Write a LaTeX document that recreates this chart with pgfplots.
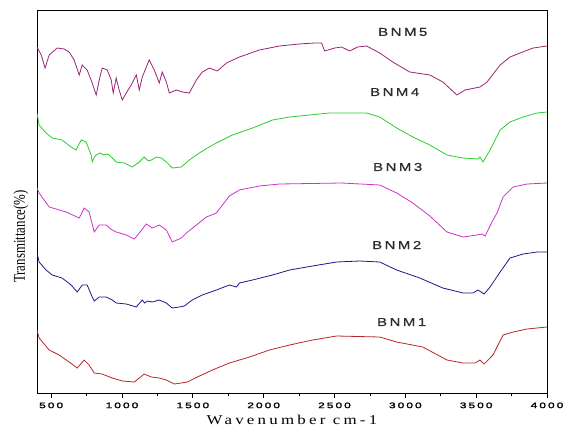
\documentclass[border=0pt]{standalone}
\usepackage{pgfplots}
\pgfplotsset{compat=1.18}
\usepackage{fontspec}
\setmainfont{Liberation Serif}
\newfontfamily\tickfont[FakeStretch=1.5,LetterSpace=25,FakeBold=2]{Liberation Sans}
\newfontfamily\namefont[FakeStretch=1.3,LetterSpace=22,FakeBold=0.8]{Liberation Sans}
\newfontfamily\xlabfont[FakeStretch=1.25,LetterSpace=24]{Liberation Serif}
\newfontfamily\ylabfont[FakeStretch=0.78]{Liberation Serif}
\definecolor{cBNMfive}{RGB}{155,35,120}
\definecolor{cBNMfour}{RGB}{45,205,45}
\definecolor{cBNMthree}{RGB}{205,50,205}
\definecolor{cBNMtwo}{RGB}{25,25,135}
\definecolor{cBNMone}{RGB}{180,40,45}
\definecolor{labelGray}{RGB}{45,45,45}

\begin{document}
\begin{tikzpicture}
\begin{axis}[
    scale only axis,
    width=510pt, height=383pt,
    xmin=400, xmax=4000,
    ymin=0, ymax=383,
    xtick={500,1000,...,4000},
    minor x tick num=1,
    ytick=\empty,
    xtick pos=bottom,
    tick align=outside,
    major tick length=5pt,
    minor tick length=3pt,
    axis line style={line width=0.9pt},
    tick style={line width=0.8pt, black},
    /pgf/number format/assume math mode=true,
    /pgf/number format/set thousands separator={},
    x tick label style={font=\tickfont\fontsize{8}{9}\selectfont, yshift=-1pt},
    xlabel={\xlabfont\fontsize{13.5}{14}\selectfont Wavenumber cm-1},
    xlabel style={yshift=0pt},
    ylabel={\ylabfont\fontsize{16.5}{18}\selectfont Transmittance(\%)},
    ylabel style={yshift=0pt, xshift=-35pt},
    every axis plot/.append style={line width=0.8pt, mark=none},
]
% BNM5
\addplot[cBNMfive] coordinates {
(400,346) (430,338) (457,325) (486,338) (542,345) (592,344) (627,341) (662,333) (698,318)
(719,328) (754,323) (790,310) (818,298) (839,313) (860,325) (896,323) (924,313)
(938,300) (959,315) (980,303) (1002,293) (1030,300) (1065,308) (1101,318) (1122,303)
(1143,316) (1192,333) (1228,323) (1263,310) (1284,321) (1313,311) (1334,300) (1384,303)
(1426,301) (1475,300) (1525,313) (1567,321) (1617,325) (1673,322) (1737,330) (1829,336)
(1970,343) (2112,347) (2250,349) (2359,350) (2409,350) (2430,342) (2501,345) (2550,346)
(2607,342) (2663,346) (2727,347) (2819,340) (2911,331) (3031,321) (3173,318) (3265,311)
(3364,298) (3421,303) (3527,306) (3577,311) (3669,328) (3739,336) (3810,340) (3902,345)
(4000,347)
};
% BNM4
\addplot[cBNMfour] coordinates {
(400,280) (415,268) (464,260) (507,255) (577,253) (641,246) (676,243) (712,253)
(747,251) (782,238) (790,231) (805,236) (818,238) (845,240) (874,238) (900,239) (924,236) (959,231) (1016,230)
(1072,226) (1122,231) (1157,236) (1185,232) (1207,233) (1242,236) (1277,235) (1313,231) (1355,225)
(1419,226) (1475,233) (1546,240) (1603,245) (1666,250) (1779,258) (1921,265) (2063,273)
(2183,276) (2465,280) (2727,280) (2819,276) (2939,265) (3053,256) (3173,248) (3294,238)
(3407,235) (3513,234) (3527,236) (3548,231) (3598,243) (3669,263) (3739,271) (3831,276)
(3930,280) (4000,281)
};
% BNM3
\addplot[cBNMthree] coordinates {
(400,205) (415,200) (486,186) (606,181) (698,175) (733,185) (768,181) (804,161)
(839,168) (889,168) (920,164) (959,161) (1030,158) (1087,154) (1122,160) (1171,169) (1214,165)
(1263,168) (1313,163) (1355,151) (1419,155) (1454,160) (1525,168) (1596,176) (1666,180)
(1709,188) (1758,197) (1829,203) (1970,207) (2112,209) (2550,210) (2819,208) (2939,200)
(3053,190) (3173,177) (3294,161) (3407,156) (3506,158) (3541,159) (3563,157) (3619,173)
(3647,180) (3690,196) (3761,206) (3859,209) (4000,210)
};
% BNM2
\addplot[cBNMtwo] coordinates {
(400,140) (415,131) (464,123) (507,118) (577,115) (641,108) (684,101) (719,108)
(754,108) (790,96) (804,92) (839,96) (889,96) (931,93) (959,90) (1030,89)
(1101,86) (1143,93) (1160,90) (1178,92) (1214,91) (1263,93) (1313,90) (1355,85) (1405,86)
(1440,87) (1496,93) (1567,98) (1666,103) (1758,108) (1808,106) (1829,110) (1921,113)
(2063,118) (2183,123) (2345,127) (2515,131) (2678,132) (2819,131) (2939,123) (3102,115)
(3265,105) (3407,100) (3478,100) (3513,103) (3556,99) (3598,106) (3669,121) (3739,135)
(3831,139) (3930,141) (4000,141)
};
% BNM1
\addplot[cBNMone] coordinates {
(400,63) (415,55) (486,43) (556,38) (627,31) (684,25) (733,33) (768,28)
(804,20) (860,19) (931,15) (1002,12) (1087,11) (1122,15) (1157,19) (1207,16)
(1263,15) (1313,13) (1369,9) (1419,10) (1461,11) (1546,17) (1638,23) (1758,30)
(1900,36) (2041,43) (2183,48) (2345,53) (2515,57) (2819,56) (2939,51) (3123,46)
(3294,33) (3407,30) (3492,30) (3527,33) (3556,29) (3619,38) (3690,58) (3761,61)
(3859,64) (4000,66)
};
\node[font=\namefont\fontsize{11.5}{12}\selectfont, text=labelGray] at (axis cs:2982,361) {BNM5};
\node[font=\namefont\fontsize{11.5}{12}\selectfont, text=labelGray] at (axis cs:2925,301) {BNM4};
\node[font=\namefont\fontsize{11.5}{12}\selectfont, text=labelGray] at (axis cs:2946,226) {BNM3};
\node[font=\namefont\fontsize{11.5}{12}\selectfont, text=labelGray] at (axis cs:2939,148) {BNM2};
\node[font=\namefont\fontsize{11.5}{12}\selectfont, text=labelGray] at (axis cs:2974,71) {BNM1};
\end{axis}
\pgfresetboundingbox
\path[use as bounding box] ([shift={(-37pt,-39pt)}]current axis.south west) rectangle ([shift={(16pt,10pt)}]current axis.north east);
\end{tikzpicture}
\end{document}
